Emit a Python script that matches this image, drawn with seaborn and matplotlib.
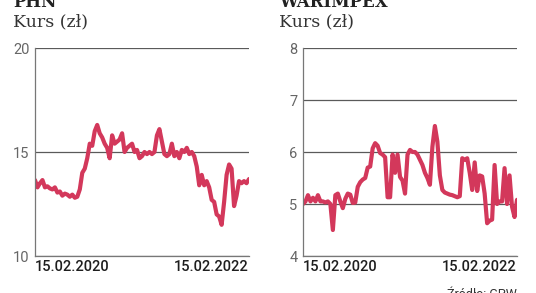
import numpy as np
import pandas as pd
import matplotlib
matplotlib.use("Agg")
import matplotlib.pyplot as plt
import seaborn as sns

# ---- data ----
titles = ["PHN", "WARIMPEX"]
subtitle = "Kurs (zł)"
date_labels = ["15.02.2020", "15.02.2022"]
source = "Źródło: GPW"

phn_values = [13.65, 13.3, 13.5, 13.65, 13.3, 13.35, 13.25, 13.2, 13.3, 13.05,
              13.1, 12.9, 13.0, 12.95, 12.85, 12.95, 12.8, 12.85, 13.2, 14.0,
              14.2, 14.7, 15.4, 15.3, 16.0, 16.3, 15.9, 15.7, 15.4, 15.2,
              14.7, 15.8, 15.4, 15.5, 15.6, 15.9, 15.0, 15.2, 15.3, 15.4,
              15.0, 15.1, 14.7, 14.8, 15.0, 14.9, 15.0, 14.9, 15.0, 15.8,
              16.1, 15.5, 14.9, 14.8, 14.9, 15.4, 14.8, 15.0, 14.7, 15.1,
              15.0, 15.2, 14.9, 15.0, 14.8, 14.3, 13.4, 13.9, 13.4, 13.6,
              13.3, 12.7, 12.6, 12.0, 11.9, 11.5, 12.6, 13.9, 14.4, 14.2,
              12.4, 12.9, 13.6, 13.5, 13.6, 13.5, 13.7]

warimpex_values = [5.0, 5.05, 5.17, 5.05, 5.12, 5.05, 5.17, 5.05, 5.05, 5.03,
                   5.05, 5.0, 4.5, 5.17, 5.2, 5.05, 4.92, 5.1, 5.2, 5.18,
                   5.02, 5.03, 5.33, 5.42, 5.47, 5.5, 5.7, 5.72, 6.07, 6.17,
                   6.12, 5.98, 5.95, 5.9, 5.13, 5.13, 5.95, 5.6, 5.95, 5.52,
                   5.45, 5.2, 5.95, 6.04, 6.0, 6.0, 5.95, 5.85, 5.75, 5.6,
                   5.5, 5.37, 6.1, 6.5, 6.2, 5.55, 5.27, 5.22, 5.2, 5.18,
                   5.17, 5.15, 5.13, 5.15, 5.88, 5.85, 5.88, 5.6, 5.27, 5.8,
                   5.25, 5.55, 5.53, 5.2, 4.63, 4.68, 4.7, 5.75, 5.0, 5.05,
                   5.05, 5.69, 5.0, 5.55, 4.95, 4.75, 5.08]

phn_ylim = (10, 20)
phn_yticks = [10, 15, 20]
war_ylim = (4, 8)
war_yticks = [4, 5, 6, 7, 8]

# ---- style ----
sns.set_style("white")
plt.rcParams["font.family"] = ["Roboto", "DejaVu Sans"]

LINE = "#d3385b"
GRID = "#5a5a5a"
TICK = "#666666"

fig = plt.figure(figsize=(5.36, 2.93), dpi=100)
W, H = 536, 293

def px_axes(x0, x1, y0, y1):
    return fig.add_axes([x0 / W, 1 - y1 / H, (x1 - x0) / W, (y1 - y0) / H])

panels = [
    (px_axes(35, 249, 48, 256), phn_values, phn_ylim, phn_yticks, titles[0], 13),
    (px_axes(303, 517, 48, 256), warimpex_values, war_ylim, war_yticks, titles[1], 279),
]

for ax, vals, ylim, yticks, title, tx in panels:
    df = pd.DataFrame({"idx": np.arange(len(vals)), "kurs": vals})
    sns.lineplot(data=df, x="idx", y="kurs", ax=ax, color=LINE, linewidth=3.0,
                 solid_joinstyle="round", solid_capstyle="round")
    ax.set_xlim(0, len(vals) - 1)
    ax.set_ylim(*ylim)
    ax.set_yticks(yticks)
    ax.set_yticklabels([str(v) for v in yticks], color=TICK, fontsize=10.5)
    ax.set_xticks([0, len(vals) - 1])
    ax.set_xticklabels(date_labels, fontsize=10.5, fontweight="medium", color="#1e1e1e")
    labs = ax.get_xticklabels()
    labs[0].set_horizontalalignment("left")
    labs[1].set_horizontalalignment("right")
    ax.tick_params(axis="both", length=0)
    ax.tick_params(axis="y", pad=4)
    ax.tick_params(axis="x", pad=3)
    ax.set_xlabel("")
    ax.set_ylabel("")
    ax.grid(axis="y", color=GRID, linewidth=0.9)
    ax.grid(axis="x", visible=False)
    ax.set_axisbelow(True)
    for s in ["top", "right"]:
        ax.spines[s].set_visible(False)
    for s in ["left", "bottom"]:
        ax.spines[s].set_color("#777777")
        ax.spines[s].set_linewidth(0.9)
    ax.set_facecolor("white")
    fig.text(tx / W, 1 - 7 / H, title, fontsize=12, fontweight="bold",
             family=["DejaVu Serif"], color="#222222", va="baseline", ha="left")
    fig.text(tx / W, 1 - 26 / H, subtitle, fontsize=12.5, family=["DejaVu Serif"],
             color="#333333", va="baseline", ha="left")

fig.text(517 / W, 1 - 288 / H, source, fontsize=9, color="#333333",
         va="top", ha="right")

fig.savefig("out.png", dpi=100, facecolor="white")
